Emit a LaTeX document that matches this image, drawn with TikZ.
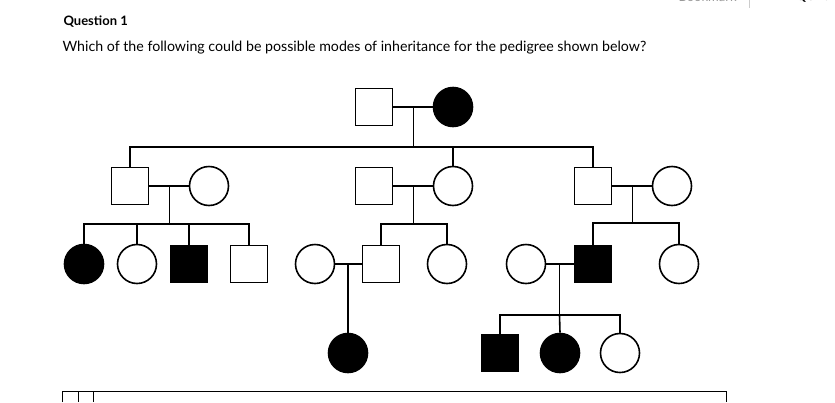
\documentclass[tikz,border=0pt]{standalone}
\usepackage{fontspec}
\setmainfont{Lato}
\usetikzlibrary{calc,positioning}

\begin{document}
\begin{tikzpicture}[x=1pt,y=-1pt]
	\tikzstyle{male}=[draw=black, line width=1.6pt, minimum size=37pt, inner sep=0pt, rectangle]
	\tikzstyle{female}=[draw=black, line width=1.6pt, minimum size=39pt, inner sep=0pt, circle]
	\tikzstyle{hit}=[fill=black]
	\tikzstyle{line}=[line width=1.6pt, draw=black]
	\tikzstyle{frame}=[draw=black, line width=0.6pt]

	\useasboundingbox (0,0) rectangle (835,402);

	\node (q) [anchor=west, font=\bfseries\fontsize{13}{15}\selectfont] at (60,22) {Question 1};
	\node (txt) [anchor=west, font=\fontsize{14.2}{16}\selectfont] at (59,48) {Which of the following could be possible modes of inheritance for the pedigree shown below?};
	\node (bm) [anchor=west, text=black!40, font=\fontsize{13}{15}\selectfont] at (675,-3) {Bookmark};
	\node (eq) [anchor=west, font=\bfseries\fontsize{13}{15}\selectfont] at (760,-3) {EDIT QUES};
	\draw[black!20, line width=0.6pt] (749,-5) -- (749,8);

	% generation I
	\node (f) [male] at (374,107) {};
	\node (m) [female, hit] at (453,107) {};
	% generation II
	\node (a1) [male] at (130,186) {};
	\node (a2) [female] at (209,186) {};
	\node (b1) [male] at (374,186) {};
	\node (b2) [female] at (453,186) {};
	\node (c1) [male] at (593,186) {};
	\node (c2) [female] at (672,186) {};
	% generation III
	\node (a3) [female, hit] at (84,264) {};
	\node (a4) [female] at (137,264) {};
	\node (a5) [male, hit] at (189,264) {};
	\node (a6) [male] at (249,264) {};
	\node (b3) [female] at (315,264) {};
	\node (b4) [male] at (381,264) {};
	\node (b5) [female] at (447,264) {};
	\node (c3) [female] at (526,264) {};
	\node (c4) [male, hit] at (593,264) {};
	\node (c5) [female] at (679,264) {};
	% generation IV
	\node (b6) [female, hit] at (348,353) {};
	\node (c6) [male, hit] at (500,353) {};
	\node (c7) [female, hit] at (560,353) {};
	\node (c8) [female] at (620,353) {};

	% marriages
	\draw[line] (f) -- (m);
	\draw[line] (a1) -- (a2);
	\draw[line] (b1) -- (b2);
	\draw[line] (c1) -- (c2);
	\draw[line] (b3) -- (b4);
	\draw[line] (c3) -- (c4);

	% descents
	\coordinate (fm) at ($(f)!.5!(m)$);
	\draw[line] (fm) -- ($(fm)+(0,40)$) coordinate (fs);
	\draw[line] (a1.north) |- (fs) -| (c1.north);
	\draw[line] (b2.north) -- (b2.north |- fs);

	\coordinate (am) at ($(a1)!.5!(a2)$);
	\draw[line] (am) -- ($(am)+(0,38)$) coordinate (as);
	\draw[line] (a3.north) |- (as) -| (a6.north);
	\draw[line] (a4.north) -- (a4.north |- as);
	\draw[line] (a5.north) -- (a5.north |- as);

	\coordinate (bm) at ($(b1)!.5!(b2)$);
	\draw[line] (bm) -- ($(bm)+(0,38)$) coordinate (bs);
	\draw[line] (b4.north) |- (bs) -| (b5.north);
	\coordinate (bc) at ($(b3)!.5!(b4)$);
	\draw[line] (bc) -- (b6.north);

	\coordinate (cm) at ($(c1)!.5!(c2)$);
	\draw[line] (cm) -- ($(cm)+(0,37)$) coordinate (cs);
	\draw[line] (c4.north) |- (cs) -| (c5.north);
	\coordinate (cc) at ($(c3)!.5!(c4)$);
	\draw[line] (cc) -- ($(cc)+(0,51)$) coordinate (cd);
	\draw[line] (c6.north) |- (cd) -| (c8.north);
	\draw[line] (c7.north) -- (cd);

	% table frame
	\draw[frame] (62,402) |- (726,391) -- (726,402);
	\draw[frame] (78,391) -- (78,402);
	\draw[frame] (93,391) -- (93,402);
\end{tikzpicture}
\end{document}
